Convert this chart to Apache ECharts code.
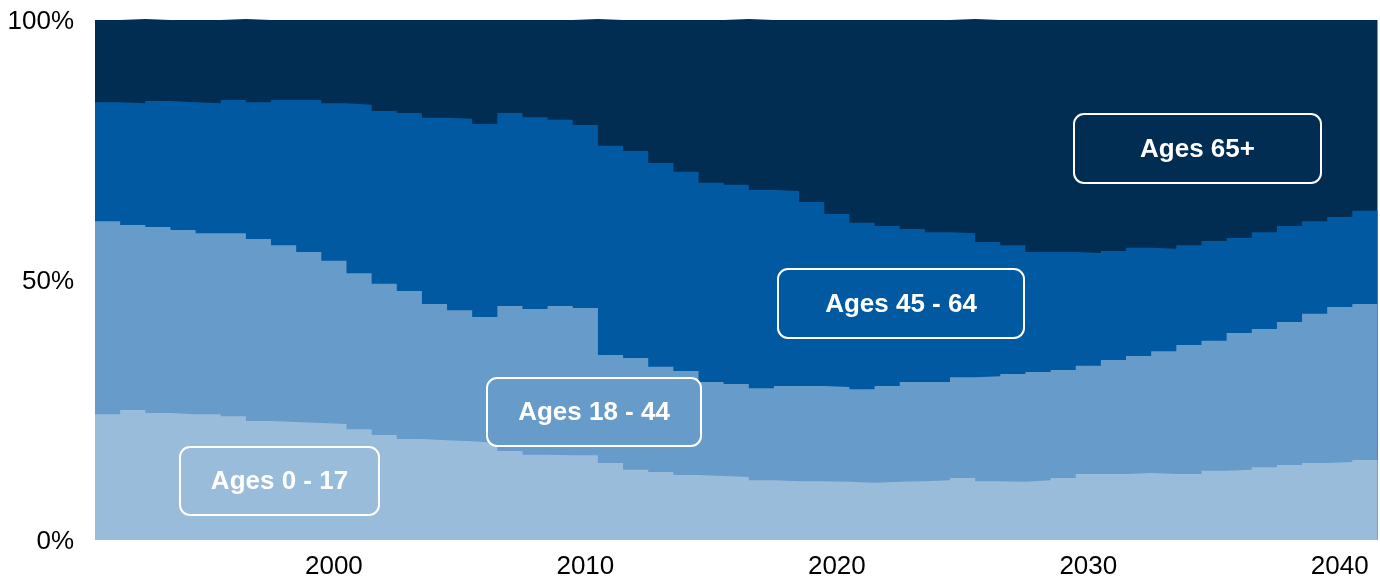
<!DOCTYPE html>
<html>
<head>
<meta charset="utf-8">
<script src="https://cdn.jsdelivr.net/npm/echarts@6/dist/echarts.min.js"></script>
<style>
html,body{margin:0;padding:0;background:#fff;}
#chart{width:1380px;height:581px;}
</style>
</head>
<body>
<div id="chart"></div>
<script>
const years = [1991,1992,1993,1994,1995,1996,1997,1998,1999,2000,2001,2002,2003,2004,2005,2006,2007,2008,2009,2010,2011,2012,2013,2014,2015,2016,2017,2018,2019,2020,2021,2022,2023,2024,2025,2026,2027,2028,2029,2030,2031,2032,2033,2034,2035,2036,2037,2038,2039,2040,2041];
const xTickLabels = [2000,2010,2020,2030,2040];
const yTickLabels = ['0%','50%','100%'];

const ages0to17 = [24.2,25.0,24.4,24.2,24.2,23.8,22.9,22.7,22.5,22.3,21.3,20.2,19.4,19.2,19.0,18.7,17.1,16.4,16.3,16.3,14.8,13.5,13.1,12.5,12.3,12.1,11.5,11.3,11.3,11.2,11.0,11.2,11.3,11.5,11.9,11.3,11.2,11.5,11.9,12.7,12.7,12.9,12.7,12.7,13.3,13.5,14.0,14.4,14.8,15.0,15.4];
const ages18to44 = [37.1,35.6,35.8,35.4,34.8,35.2,35.0,34.0,32.9,31.4,30.0,29.1,28.5,26.2,25.2,24.2,27.9,28.0,28.7,28.3,20.8,21.5,20.2,20.0,18.1,17.9,17.7,18.3,18.3,18.2,18.0,18.4,19.1,18.9,19.4,20.2,20.7,20.8,20.8,20.8,21.9,22.5,23.6,24.8,25.0,26.3,26.6,27.5,28.7,29.8,30.0];
const ages45to64 = [22.9,23.4,24.2,24.6,25.0,25.6,26.3,27.9,29.2,30.3,32.4,33.2,34.2,35.8,36.8,37.1,37.1,36.9,35.8,35.2,40.2,39.8,39.2,38.3,38.3,38.3,38.1,37.5,35.4,33.3,32.0,30.8,29.4,28.8,27.7,25.8,24.8,23.1,22.7,21.7,21.0,20.8,19.7,19.2,19.2,18.3,18.6,18.5,17.8,17.3,17.9];
const ages65plus = [15.8,16.2,15.6,15.8,16.0,15.6,15.8,15.4,15.4,16.0,16.3,17.5,17.9,18.8,19.0,20.0,17.9,18.7,19.2,20.4,24.2,25.2,27.5,29.2,31.3,31.9,32.7,32.9,35.0,37.3,39.0,39.6,40.2,40.8,41.2,42.7,43.3,44.6,44.6,44.8,44.4,43.8,44.0,43.3,42.5,41.9,40.8,39.6,38.7,37.9,36.7];

const seriesNames = ['Ages 0 - 17','Ages 18 - 44','Ages 45 - 64','Ages 65+'];
const seriesColors = ['#9abcdb','#679bc9','#0059a1','#012d53'];
const seriesData = [ages0to17, ages18to44, ages45to64, ages65plus];

// cumulative tops of each band (each area is filled down to 0, drawn top band first)
const cumulative = [];
let running = years.map(function(){ return 0; });
seriesData.forEach(function (arr) {
  running = running.map(function (v, j) { return v + arr[j]; });
  cumulative.push(running.slice());
});

// each year is a step of one year width centred on the year
function stepPoints(vals) {
  const pts = years.map(function (y, j) { return [y - 0.5, vals[j]]; });
  pts.push([years[years.length - 1] + 0.5, vals[vals.length - 1]]);
  return pts;
}

const chart = echarts.init(document.getElementById('chart'), null, {renderer:'canvas'});
const FONT = '"Liberation Sans", Arial, Helvetica, sans-serif';

function labelBox(x, y, w, h, text, fill) {
  return {
    type: 'group', left: x, top: y, z: 100,
    children: [
      {type:'rect', z: 100, shape:{x:0,y:0,width:w,height:h,r:10},
       style:{fill:fill, stroke:'#ffffff', lineWidth:2}},
      {type:'text', z: 101, x:w/2, y:h/2 + 1,
       style:{text:text, fill:'#ffffff', font:'bold 26px ' + FONT, textAlign:'center', textVerticalAlign:'middle'}}
    ]
  };
}

const series = [];
for (let i = seriesData.length - 1; i >= 0; i--) {
  series.push({
    name: seriesNames[i], type: 'line', step: 'end',
    data: stepPoints(cumulative[i]),
    showSymbol: false, symbol: 'none', clip: false,
    lineStyle: {width: 0},
    areaStyle: {color: seriesColors[i], opacity: 1, origin: 'start'},
    itemStyle: {color: seriesColors[i]},
    emphasis: {disabled: true},
    silent: true
  });
}

chart.setOption({
  animation: false,
  backgroundColor: '#ffffff',
  grid: {left: 95, right: 2.5, top: 20, bottom: 41, containLabel: false},
  xAxis: {
    type: 'value',
    min: years[0] - 0.5, max: years[years.length - 1] + 0.5,
    axisLine: {show:false},
    axisTick: {show:false},
    splitLine: {show:false},
    axisLabel: {
      customValues: xTickLabels,
      formatter: function (v) { return String(v); },
      color: '#000', fontSize: 26, fontFamily: FONT, margin: 14
    }
  },
  yAxis: {
    type: 'value', min: 0, max: 100, interval: 50,
    axisLine: {show:false}, axisTick: {show:false}, splitLine: {show:false},
    axisLabel: {
      color: '#000', fontSize: 26, fontFamily: FONT, margin: 21,
      formatter: function (v) { return '{t|' + yTickLabels[Math.round(v/50)] + '}'; },
      rich: {t: {fontSize: 26, fontFamily: FONT, color: '#000', padding: [4, 0, 0, 0]}}
    }
  },
  series: series,
  graphic: [
    labelBox(1073, 113, 247, 69, 'Ages 65+', seriesColors[3]),
    labelBox(777, 268, 246, 69, 'Ages 45 - 64', seriesColors[2]),
    labelBox(486, 377, 214, 68, 'Ages 18 - 44', seriesColors[1]),
    labelBox(179, 446, 199, 68, 'Ages 0 - 17', seriesColors[0])
  ]
});
</script>
</body>
</html>
